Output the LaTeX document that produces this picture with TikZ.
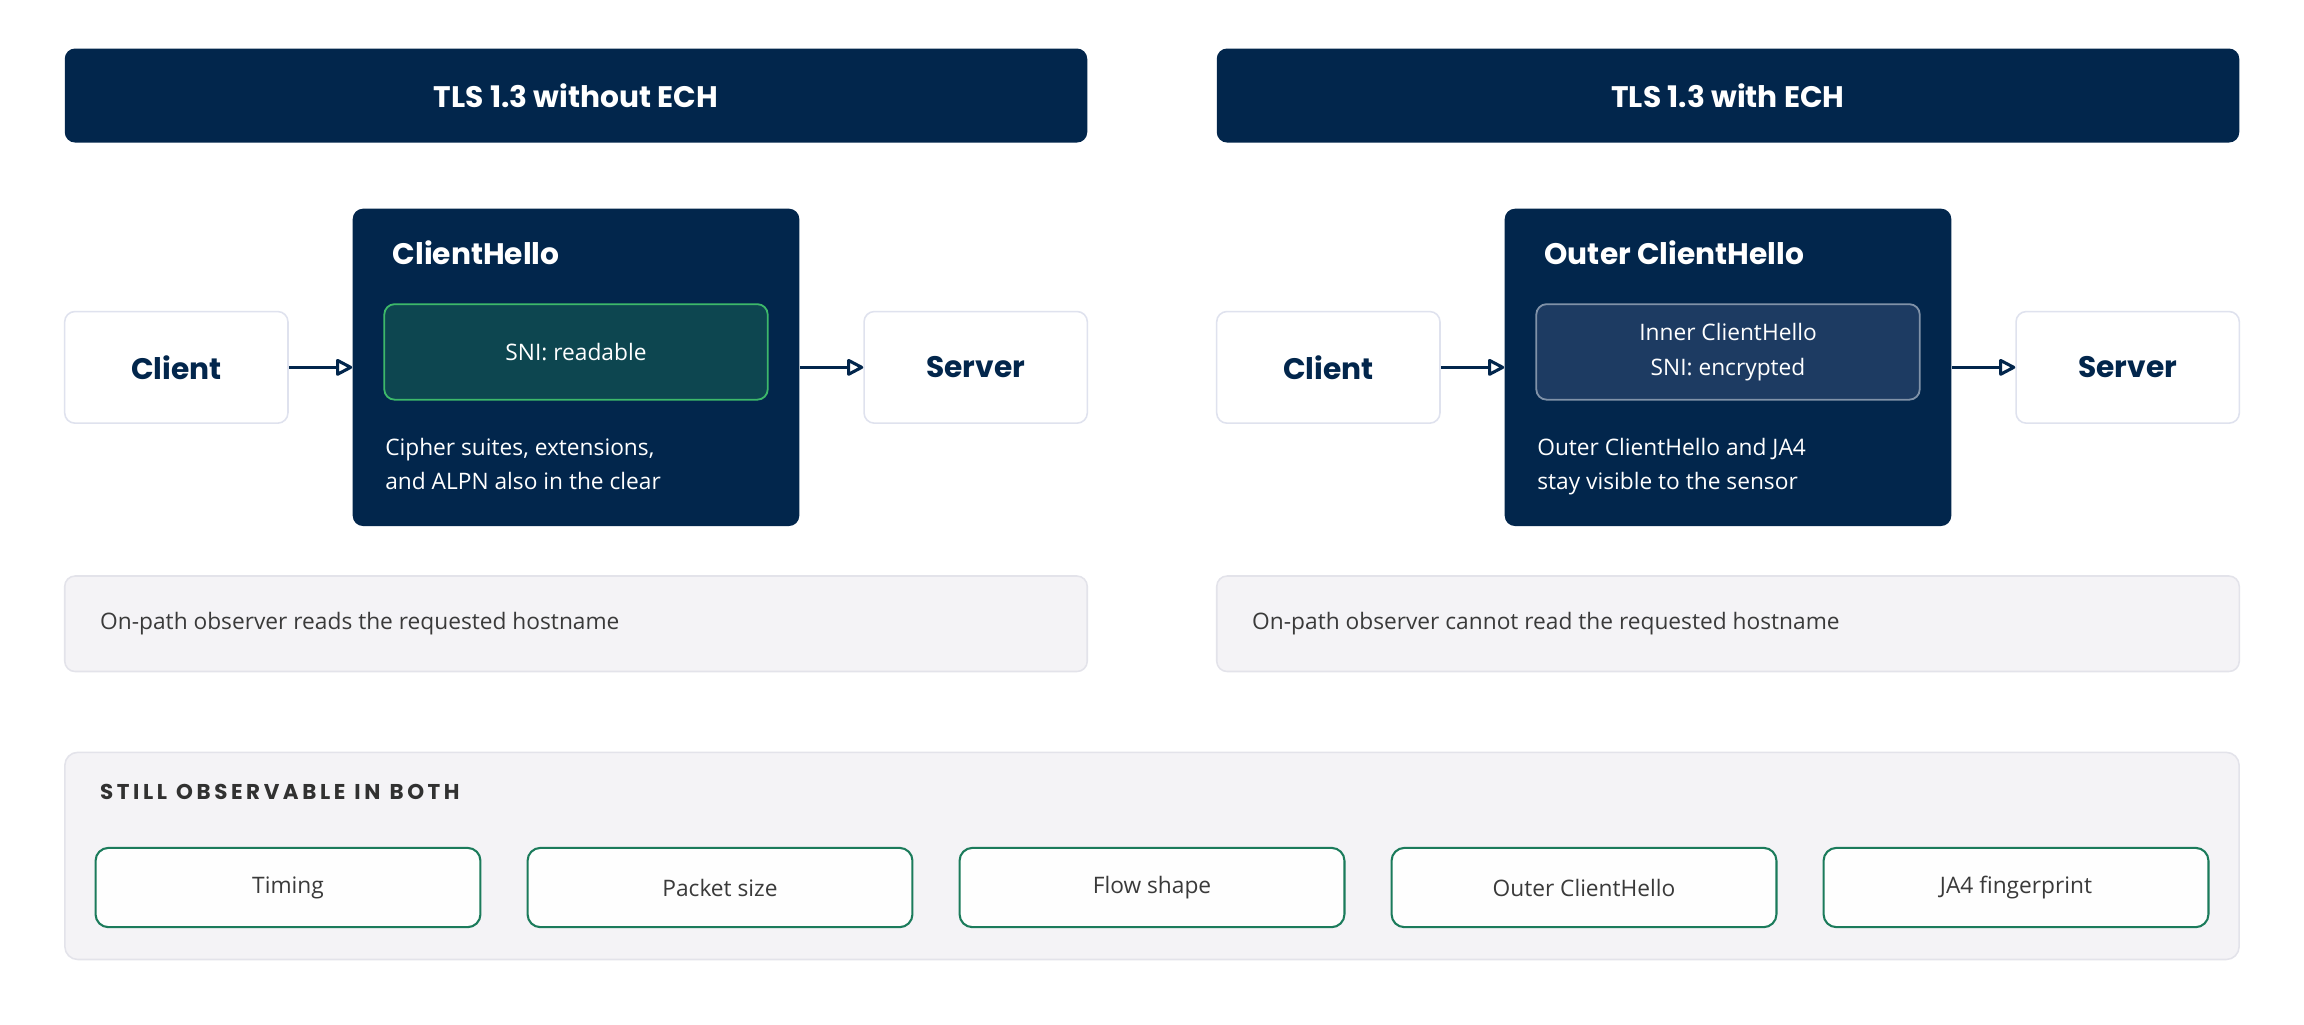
\documentclass[tikz,border=0pt]{standalone}
\usepackage{fontspec}
\setmainfont{Open Sans}
\newfontfamily\headf{Poppins}
\usetikzlibrary{arrows.meta}
\definecolor{navy}{HTML}{02264C}
\definecolor{innerg}{HTML}{0D4650}
\definecolor{greenb}{HTML}{3DB86A}
\definecolor{innerb}{HTML}{1D3B62}
\definecolor{grayb}{HTML}{8092A8}
\definecolor{panel}{HTML}{F4F3F6}
\definecolor{panelb}{HTML}{E3E3EA}
\definecolor{pillb}{HTML}{1B7B5B}
\definecolor{txt}{HTML}{3A3A3A}
\definecolor{boxb}{HTML}{DFE2EE}
\tikzset{
 px/.style={},
 header/.style={fill=navy,rounded corners=4pt,text=white,font=\headf\bfseries\fontsize{11.5}{13}\selectfont,minimum width=13.92cm,minimum height=1.28cm},
 endpt/.style={fill=white,draw=boxb,line width=0.6pt,rounded corners=4pt,text=navy,font=\headf\bfseries\fontsize{11.5}{13}\selectfont,minimum width=3.04cm,minimum height=1.52cm},
 msg/.style={fill=navy,rounded corners=4pt,minimum width=6.08cm,minimum height=4.32cm},
 inner/.style={rounded corners=4pt,line width=0.7pt,minimum width=5.22cm,minimum height=1.3cm,text=white,font=\fontsize{8.8}{13.5}\selectfont,align=center},
 obs/.style={fill=panel,draw=panelb,line width=0.6pt,rounded corners=4pt,minimum width=13.92cm,minimum height=1.3cm},
 pill/.style={fill=white!99!gray,draw=pillb,line width=0.8pt,rounded corners=5pt,minimum width=5.24cm,minimum height=1.08cm,text=txt,font=\fontsize{8.8}{11}\selectfont},
 arr/.style={-{Stealth[length=7pt,width=7pt,inset=0pt,open,round]},draw=navy,line width=1.2pt},
 btxt/.style={text=white,font=\fontsize{8.8}{13}\selectfont,align=left,anchor=north west},
 ttl/.style={text=white,font=\headf\bfseries\fontsize{11.5}{13}\selectfont,anchor=west},
 otxt/.style={text=txt,font=\fontsize{8.8}{11}\selectfont,anchor=west}
}
\begin{document}
\begin{tikzpicture}[x=0.02cm,y=-0.02cm]
\useasboundingbox (0,0) rectangle (1568,697);
\fill[white] (0,0) rectangle (1568,697);
% left
\node[header] (hl) at (392,65) {TLS 1.3 without ECH};
\node[endpt] (cl) at (120,250) {Client};
\node[endpt] (sl) at (664,250) {Server};
\node[msg] (ml) at (392,250) {};
\node[ttl] (mlt) at (261,172) {ClientHello};
\node[inner,fill=innerg,draw=greenb] (il) at (392,239.5) {SNI: readable};
\node[btxt] (mld) at (256,292) {Cipher suites, extensions,\\and ALPN also in the clear};
\draw[arr] (cl.east) -- (ml.west);
\draw[arr] (ml.east) -- (sl.west);
\node[obs] (ol) at (392,424.5) {};
\node[otxt] (olt) at (62,424.5) {On-path observer reads the requested hostname};
% right
\node[header] (hr) at (1176,65) {TLS 1.3 with ECH};
\node[endpt] (cr) at (904,250) {Client};
\node[endpt] (sr) at (1448,250) {Server};
\node[msg] (mr) at (1176,250) {};
\node[ttl] (mrt) at (1045,172) {Outer ClientHello};
\node[inner,fill=innerb,draw=grayb] (ir) at (1176,239.5) {Inner ClientHello\\SNI: encrypted};
\node[btxt] (mrd) at (1040,292) {Outer ClientHello and JA4\\stay visible to the sensor};
\draw[arr] (cr.east) -- (mr.west);
\draw[arr] (mr.east) -- (sr.west);
\node[obs] (or) at (1176,424.5) {};
\node[otxt] (ort) at (846,424.5) {On-path observer cannot read the requested hostname};
% bottom
\node[fill=panel,draw=panelb,line width=0.6pt,rounded corners=5pt,minimum width=29.6cm,minimum height=2.82cm] (bp) at (784,582.5) {};
\node[anchor=west,text=txt!85!black,font=\headf\bfseries\fontsize{8.3}{10}\selectfont] (bl) at (62,539) {S\,T\,I\,L\,L\ \ O\,B\,S\,E\,R\,V\,A\,B\,L\,E\ \ I\,N\ \ B\,O\,T\,H};
\node[pill] (p1) at (196,604) {Timing};
\node[pill] (p2) at (490,604) {Packet size};
\node[pill] (p3) at (784,604) {Flow shape};
\node[pill] (p4) at (1078,604) {Outer ClientHello};
\node[pill] (p5) at (1372,604) {JA4 fingerprint};
\end{tikzpicture}
\end{document}
